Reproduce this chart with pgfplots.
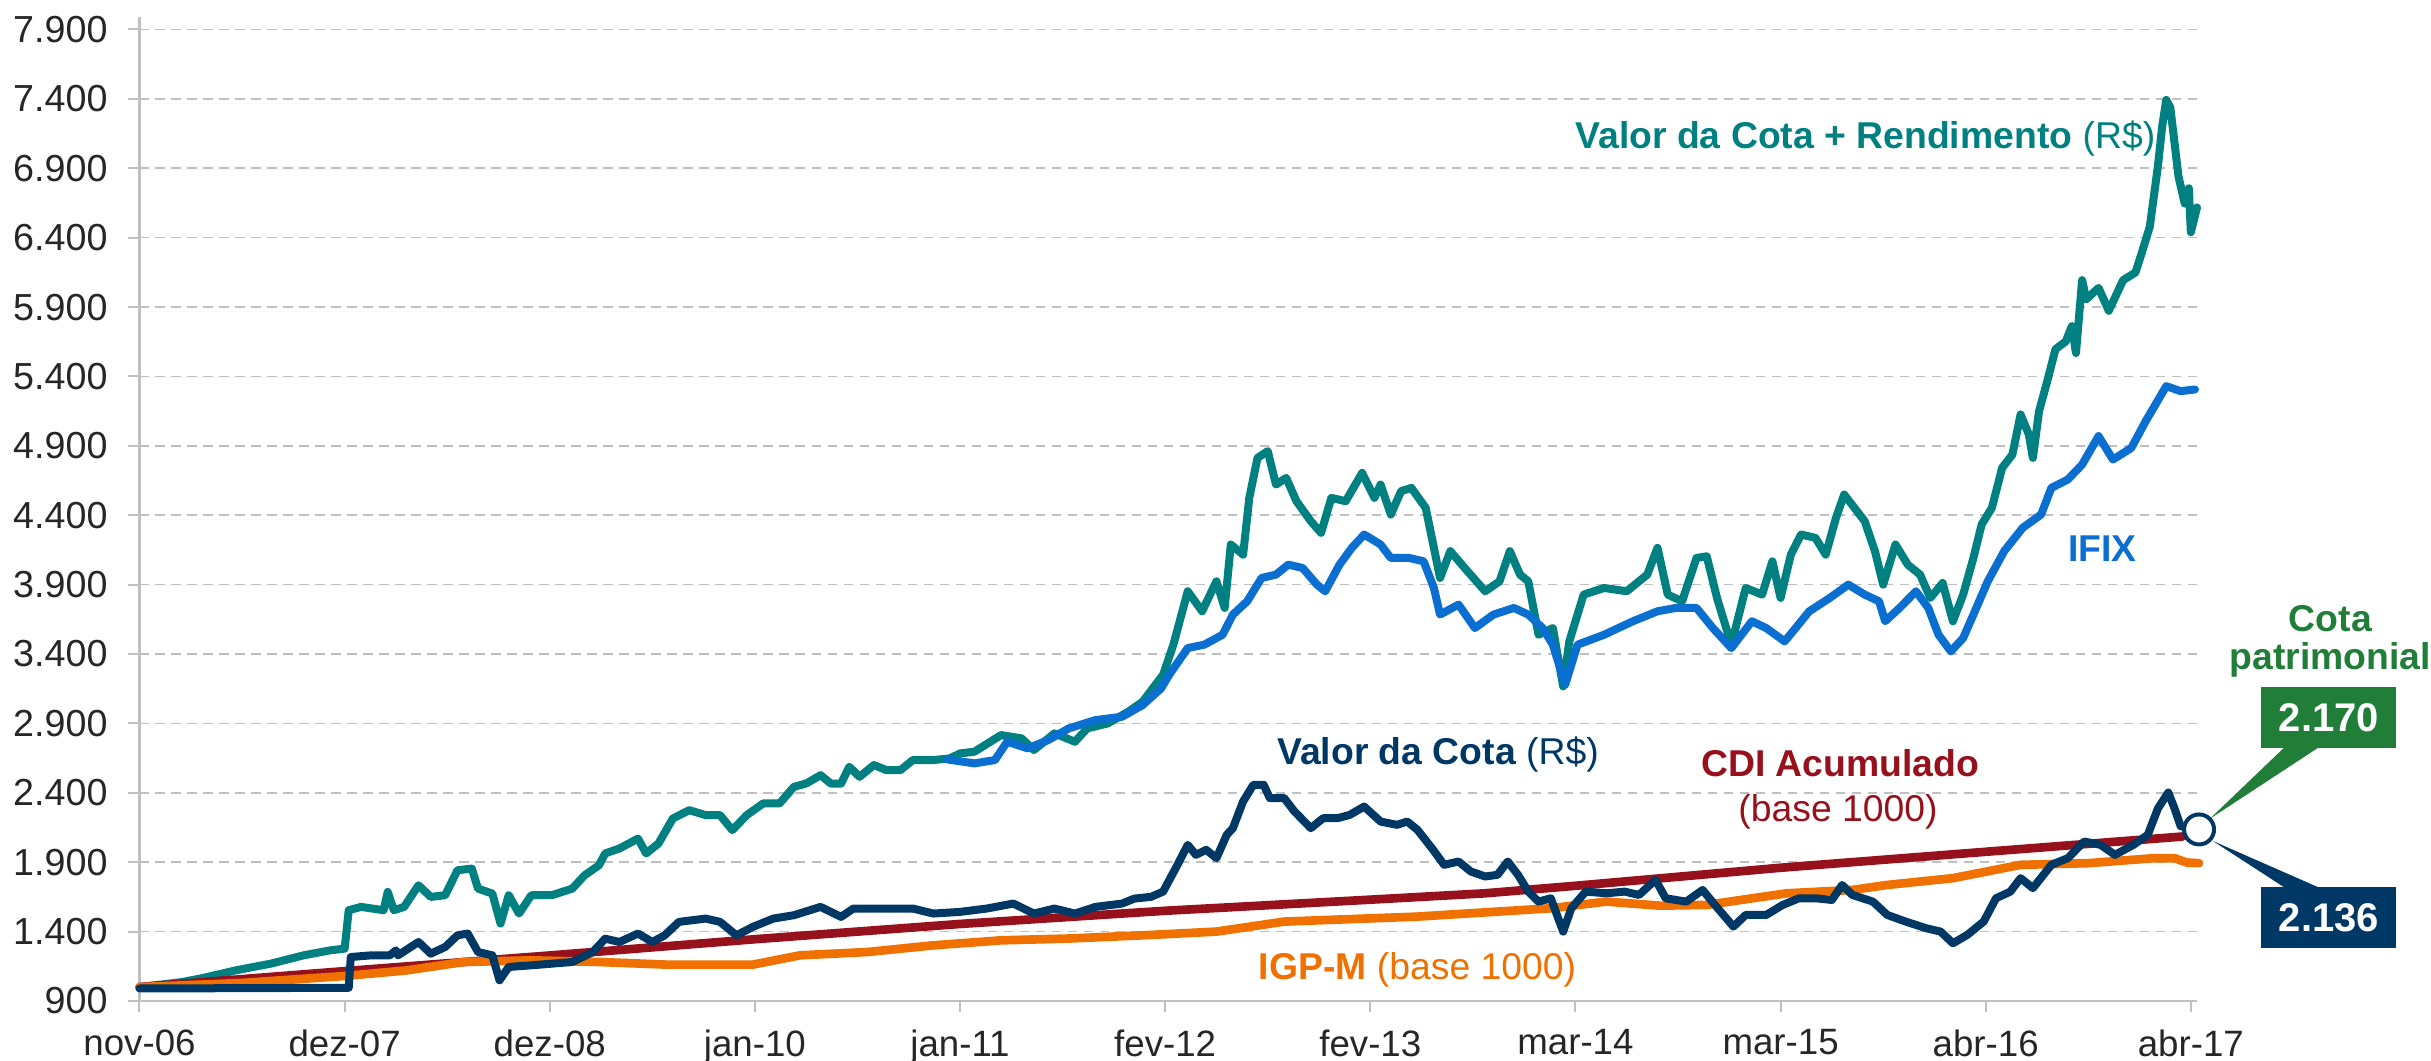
\documentclass[border=0pt]{standalone}
\usepackage{fontspec}
\setmainfont{Liberation Sans}
\usepackage{pgfplots}
\pgfplotsset{compat=1.18}

\definecolor{cteal}{HTML}{008080}
\definecolor{cifix}{HTML}{0A6FD1}
\definecolor{cnavy}{HTML}{003865}
\definecolor{ccdi}{HTML}{96111B}
\definecolor{cigp}{HTML}{F07000}
\definecolor{cgreen}{HTML}{217E38}
\definecolor{cgrid}{HTML}{C0C0C0}

\newcommand{\lbl}{\fontsize{11.2}{13}\selectfont}

\begin{document}
\begin{tikzpicture}
\begin{axis}[
    scale only axis,
    width=617.25pt, height=295.2pt,
    xmin=0, xmax=10.03, ymin=900, ymax=7990,
    axis x line*=bottom, axis y line*=left,
    axis line style={draw=cgrid, line width=0.8pt},
    xtick={0,1,...,10},
    xticklabels={nov-06,dez-07,dez-08,jan-10,jan-11,fev-12,fev-13,mar-14,mar-15,abr-16,abr-17},
    ytick={900,1400,...,7900},
    yticklabels={900,1.400,1.900,2.400,2.900,3.400,3.900,4.400,4.900,5.400,5.900,6.400,6.900,7.400,7.900},
    tick align=outside,
    major tick length=3.4pt,
    tick style={draw=cgrid, line width=0.6pt},
    ymajorgrids,
    grid style={draw=cgrid, line width=0.5pt, dash pattern=on 2.8pt off 2pt},
    xticklabel style={font=\fontsize{11}{13}\selectfont, text=black!85, anchor=north, inner sep=0pt, yshift=-5pt},
    yticklabel style={font=\fontsize{11.3}{13}\selectfont, text=black!85, anchor=east, inner sep=0pt, xshift=-6pt},
    clip=false,
    every axis plot/.append style={line join=round, line cap=round},
]
% Valor da Cota + Rendimento
\addplot[cteal, line width=2.4pt] coordinates {
(0,1000)(0.21,1037)(0.31,1066)(0.47,1121)(0.64,1169)(0.8,1229)(0.93,1265)(1.0,1277)(1.02,1554)(1.08,1578)
(1.19,1554)(1.21,1686)(1.24,1554)(1.29,1578)(1.36,1734)(1.42,1650)(1.49,1662)(1.55,1842)(1.62,1854)(1.65,1710)
(1.72,1674)(1.76,1458)(1.8,1662)(1.85,1530)(1.91,1662)(2.01,1662)(2.11,1710)(2.17,1806)(2.24,1878)(2.27,1963)
(2.34,1999)(2.43,2070)(2.47,1963)(2.53,2035)(2.6,2215)(2.68,2275)(2.76,2239)(2.83,2239)(2.89,2131)(2.96,2239)
(3.04,2323)(3.12,2323)(3.19,2443)(3.25,2467)(3.32,2527)(3.37,2467)(3.42,2467)(3.46,2588)(3.51,2515)(3.58,2600)
(3.64,2564)(3.71,2564)(3.77,2636)(3.87,2636)(3.95,2648)(4.0,2684)(4.07,2696)(4.2,2816)(4.3,2792)(4.36,2708)
(4.46,2828)(4.56,2768)(4.62,2864)(4.72,2900)(4.82,2984)(4.89,3056)(4.99,3251)(5.04,3467)(5.11,3852)(5.18,3708)
(5.25,3924)(5.29,3732)(5.32,4189)(5.38,4116)(5.41,4525)(5.45,4813)(5.50,4862)(5.54,4621)(5.59,4669)(5.64,4501)
(5.71,4357)(5.76,4273)(5.81,4525)(5.88,4501)(5.96,4705)(6.02,4525)(6.05,4621)(6.10,4405)(6.15,4573)(6.20,4597)
(6.27,4453)(6.31,4165)(6.34,3948)(6.39,4141)(6.46,4020)(6.56,3852)(6.63,3924)(6.68,4141)(6.73,3972)(6.77,3924)
(6.82,3539)(6.89,3587)(6.94,3167)(6.97,3491)(7.04,3828)(7.14,3876)(7.25,3852)(7.35,3972)(7.40,4165)(7.45,3828)
(7.52,3780)(7.59,4092)(7.64,4104)(7.69,3804)(7.76,3467)(7.83,3876)(7.91,3828)(7.96,4068)(8.00,3804)(8.05,4116)
(8.10,4261)(8.17,4237)(8.22,4116)(8.27,4381)(8.31,4549)(8.36,4453)(8.41,4357)(8.46,4141)(8.50,3900)(8.56,4189)
(8.62,4044)(8.68,3972)(8.73,3804)(8.79,3912)(8.84,3636)(8.89,3828)(8.94,4092)(8.98,4333)(9.03,4453)(9.08,4741)
(9.13,4837)(9.17,5126)(9.21,4982)(9.23,4813)(9.26,5150)(9.30,5366)(9.34,5596)(9.39,5652)(9.42,5762)(9.44,5569)
(9.47,6094)(9.49,5956)(9.55,6038)(9.60,5873)(9.67,6094)(9.73,6149)(9.76,6287)(9.80,6480)(9.84,6922)(9.86,7198)
(9.88,7392)(9.90,7336)(9.92,7088)(9.94,6839)(9.97,6646)(9.99,6756)(10.00,6439)(10.03,6618)
};
% IFIX
\addplot[cifix, line width=2.4pt] coordinates {
(3.94,2640)(4.07,2612)(4.17,2636)(4.23,2768)(4.33,2720)(4.43,2780)(4.53,2864)(4.66,2924)(4.79,2948)(4.89,3032)
(4.98,3152)(5.02,3251)(5.11,3443)(5.19,3467)(5.28,3539)(5.33,3684)(5.40,3780)(5.47,3948)(5.54,3972)(5.60,4044)
(5.67,4020)(5.74,3900)(5.78,3852)(5.85,4044)(5.91,4165)(5.97,4261)(6.05,4189)(6.10,4092)(6.19,4092)(6.26,4068)
(6.31,3876)(6.34,3684)(6.43,3756)(6.51,3587)(6.60,3684)(6.70,3732)(6.77,3684)(6.84,3587)(6.89,3467)(6.95,3179)
(7.01,3467)(7.14,3539)(7.28,3636)(7.40,3708)(7.49,3732)(7.59,3732)(7.67,3587)(7.76,3443)(7.86,3636)(7.93,3587)
(8.02,3491)(8.14,3708)(8.24,3804)(8.33,3900)(8.41,3828)(8.48,3780)(8.51,3636)(8.58,3732)(8.66,3852)(8.72,3732)
(8.77,3539)(8.83,3419)(8.89,3515)(8.94,3684)(9.01,3924)(9.09,4141)(9.18,4309)(9.27,4405)(9.32,4597)(9.40,4657)
(9.47,4765)(9.55,4970)(9.62,4801)(9.71,4885)(9.78,5078)(9.88,5330)(9.95,5294)(10.02,5306)
};
% CDI acumulado
\addplot[ccdi, line width=2.6pt] coordinates {
(0,1000)(1,1115)(2,1228)(3,1345)(4,1455)(5,1550)(6,1630)(6.56,1676)(7,1730)(8,1860)(9,1975)(9.96,2085)
};
% IGP-M
\addplot[cigp, line width=2.6pt] coordinates {
(0,1000)(0.5,1030)(1,1080)(1.3,1120)(1.58,1181)(1.91,1193)(2.24,1181)(2.57,1162)(2.99,1162)(3.22,1229)
(3.55,1253)(3.87,1301)(4.2,1337)(4.53,1350)(4.93,1376)(5.25,1400)(5.58,1472)(6.23,1508)(6.88,1568)(7.15,1616)
(7.41,1587)(7.64,1592)(8.03,1676)(8.35,1700)(8.52,1736)(8.84,1785)(9.17,1881)(9.50,1893)(9.82,1929)(9.92,1929)
(9.98,1898)(10.04,1893)
};
% Valor da Cota
\addplot[cnavy, line width=2.4pt] coordinates {
(0,990)(1.02,995)(1.03,1217)(1.13,1229)(1.22,1229)(1.25,1265)(1.26,1229)(1.36,1325)(1.42,1241)(1.49,1289)
(1.55,1373)(1.6,1386)(1.65,1253)(1.72,1229)(1.755,1049)(1.8,1145)(1.91,1157)(2.01,1169)(2.11,1181)(2.21,1253)
(2.27,1349)(2.34,1325)(2.43,1386)(2.5,1325)(2.56,1373)(2.63,1470)(2.76,1494)(2.83,1470)(2.91,1373)(2.99,1434)
(3.09,1494)(3.19,1518)(3.32,1578)(3.42,1506)(3.48,1566)(3.58,1566)(3.68,1566)(3.77,1566)(3.87,1530)(4.0,1542)
(4.13,1566)(4.26,1602)(4.36,1530)(4.46,1566)(4.56,1530)(4.66,1578)(4.79,1602)(4.85,1638)(4.93,1650)(4.99,1688)
(5.06,1881)(5.11,2025)(5.15,1953)(5.20,1989)(5.25,1929)(5.30,2097)(5.33,2145)(5.38,2338)(5.43,2458)(5.48,2458)
(5.51,2362)(5.58,2362)(5.63,2266)(5.71,2145)(5.77,2217)(5.84,2217)(5.90,2241)(5.97,2301)(6.05,2193)(6.13,2169)
(6.18,2193)(6.23,2133)(6.30,2001)(6.36,1881)(6.43,1905)(6.49,1833)(6.56,1797)(6.62,1809)(6.67,1905)(6.72,1809)
(6.77,1688)(6.82,1616)(6.88,1640)(6.94,1400)(6.98,1568)(7.05,1688)(7.15,1676)(7.24,1688)(7.31,1664)(7.39,1773)
(7.44,1640)(7.54,1616)(7.62,1700)(7.68,1592)(7.77,1436)(7.83,1520)(7.93,1520)(8.01,1592)(8.09,1640)(8.17,1640)
(8.25,1628)(8.30,1736)(8.35,1664)(8.45,1616)(8.52,1520)(8.61,1472)(8.71,1424)(8.78,1400)(8.84,1316)(8.91,1376)
(8.99,1472)(9.05,1640)(9.12,1688)(9.17,1785)(9.23,1713)(9.32,1881)(9.40,1929)(9.48,2049)(9.56,2025)(9.63,1953)
(9.72,2025)(9.79,2097)(9.84,2289)(9.89,2402)(9.92,2289)(9.95,2160)(10.04,2136)
};

% callout tails
\fill[cgreen] (axis cs:10.453,2723) -- (axis cs:10.619,2723) -- (axis cs:10.091,2211) -- cycle;
\fill[cnavy] (axis cs:10.453,1721) -- (axis cs:10.619,1721) -- (axis cs:10.107,2053) -- cycle;
\addplot[only marks, mark=*, mark size=4.5pt, mark options={fill=white, draw=cnavy, line width=1.2pt}] coordinates {(10.04,2136)};

\node[fill=cgreen, text=white, font=\bfseries\fontsize{12}{14}\selectfont, minimum width=40.5pt, minimum height=18.3pt, inner sep=0pt] at (axis cs:10.673,2939) {2.170};
\node[fill=cnavy, text=white, font=\bfseries\fontsize{12}{14}\selectfont, minimum width=40.5pt, minimum height=18.3pt, inner sep=0pt] at (axis cs:10.673,1502) {2.136};

% series labels
\node[cteal, font=\bfseries\lbl, anchor=base east, inner sep=0pt] at (axis cs:9.83,7039) {Valor da Cota + Rendimento {\mdseries(R\$)}};
\node[cifix, font=\bfseries\lbl, anchor=base, inner sep=0pt] at (axis cs:9.57,4063) {IFIX};
\node[cnavy, font=\bfseries\lbl, anchor=base, inner sep=0pt] at (axis cs:6.33,2602) {Valor da Cota {\mdseries(R\$)}};
\node[ccdi, font=\bfseries\lbl, anchor=base, inner sep=0pt] at (axis cs:8.29,2517) {CDI Acumulado};
\node[ccdi, font=\lbl, anchor=base, inner sep=0pt] at (axis cs:8.28,2191) {(base 1000)};
\node[cigp, font=\bfseries\lbl, anchor=base, inner sep=0pt] at (axis cs:6.23,1055) {IGP-M {\mdseries(base 1000)}};
\node[cgreen, font=\bfseries\lbl, anchor=base, inner sep=0pt] at (axis cs:10.68,3559) {Cota};
\node[cgreen, font=\bfseries\lbl, anchor=base, inner sep=0pt] at (axis cs:10.68,3285) {patrimonial};

\coordinate (O) at (axis cs:0,900);
\end{axis}
\pgfresetboundingbox
\path[use as bounding box] (O) ++(-41.85pt,-18pt) rectangle ++(729.3pt,318.3pt);
\end{tikzpicture}
\end{document}
